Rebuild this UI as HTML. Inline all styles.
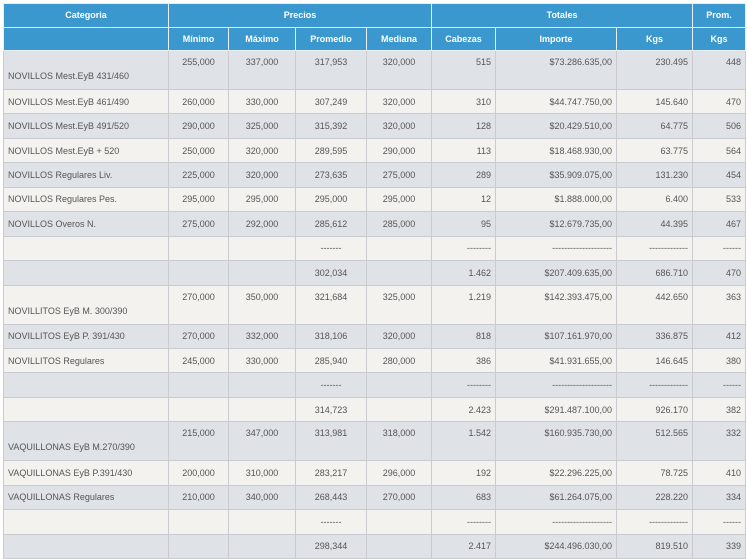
<!DOCTYPE html>
<html><head><meta charset="utf-8"><style>
body{margin:0;background:#fff;width:747px;height:558px;overflow:hidden;font-family:"Liberation Sans",sans-serif;}
table{position:absolute;left:3px;top:3px;border-collapse:collapse;table-layout:fixed;width:742px;font-size:9px;color:#555;}
td,th{border:1px solid #c9cbce;padding:0 4px;white-space:nowrap;overflow:hidden;box-sizing:border-box;}
th{background:#3b98cf;color:#fff;font-weight:bold;border-color:#e8eef3;height:23.5px;font-size:9px;}
tr.g td{background:#dfe2e6}
tr.l td{background:#f3f2ee}
td{height:24.45px;text-align:center}
td.r{text-align:right}
td.c1{text-align:left}
tr.t td{height:39px;vertical-align:top;padding-top:6px}
tr.t td.c1{vertical-align:bottom;padding-bottom:8px;padding-top:0}
</style></head><body>
<table>
<colgroup><col style="width:165px"><col style="width:60px"><col style="width:67px"><col style="width:71px"><col style="width:65px"><col style="width:64px"><col style="width:121px"><col style="width:76px"><col style="width:53px"></colgroup>
<tr><th>Categoria</th><th colspan="4">Precios</th><th colspan="3">Totales</th><th>Prom.</th></tr>
<tr><th></th><th>Mínimo</th><th>Máximo</th><th>Promedio</th><th>Mediana</th><th>Cabezas</th><th>Importe</th><th>Kgs</th><th>Kgs</th></tr>
<tr class="g t"><td class="c1">NOVILLOS Mest.EyB 431/460</td><td>255,000</td><td>337,000</td><td>317,953</td><td>320,000</td><td class="r">515</td><td class="r">$73.286.635,00</td><td class="r">230.495</td><td class="r">448</td></tr>
<tr class="l"><td class="c1">NOVILLOS Mest.EyB 461/490</td><td>260,000</td><td>330,000</td><td>307,249</td><td>320,000</td><td class="r">310</td><td class="r">$44.747.750,00</td><td class="r">145.640</td><td class="r">470</td></tr>
<tr class="g"><td class="c1">NOVILLOS Mest.EyB 491/520</td><td>290,000</td><td>325,000</td><td>315,392</td><td>320,000</td><td class="r">128</td><td class="r">$20.429.510,00</td><td class="r">64.775</td><td class="r">506</td></tr>
<tr class="l"><td class="c1">NOVILLOS Mest.EyB + 520</td><td>250,000</td><td>320,000</td><td>289,595</td><td>290,000</td><td class="r">113</td><td class="r">$18.468.930,00</td><td class="r">63.775</td><td class="r">564</td></tr>
<tr class="g"><td class="c1">NOVILLOS Regulares Liv.</td><td>225,000</td><td>320,000</td><td>273,635</td><td>275,000</td><td class="r">289</td><td class="r">$35.909.075,00</td><td class="r">131.230</td><td class="r">454</td></tr>
<tr class="l"><td class="c1">NOVILLOS Regulares Pes.</td><td>295,000</td><td>295,000</td><td>295,000</td><td>295,000</td><td class="r">12</td><td class="r">$1.888.000,00</td><td class="r">6.400</td><td class="r">533</td></tr>
<tr class="g"><td class="c1">NOVILLOS Overos N.</td><td>275,000</td><td>292,000</td><td>285,612</td><td>285,000</td><td class="r">95</td><td class="r">$12.679.735,00</td><td class="r">44.395</td><td class="r">467</td></tr>
<tr class="l"><td></td><td></td><td></td><td>-------</td><td></td><td class="r">--------</td><td class="r">--------------------</td><td class="r">-------------</td><td class="r">------</td></tr>
<tr class="g"><td></td><td></td><td></td><td>302,034</td><td></td><td class="r">1.462</td><td class="r">$207.409.635,00</td><td class="r">686.710</td><td class="r">470</td></tr>
<tr class="l t"><td class="c1">NOVILLITOS EyB M. 300/390</td><td>270,000</td><td>350,000</td><td>321,684</td><td>325,000</td><td class="r">1.219</td><td class="r">$142.393.475,00</td><td class="r">442.650</td><td class="r">363</td></tr>
<tr class="g"><td class="c1">NOVILLITOS EyB P. 391/430</td><td>270,000</td><td>332,000</td><td>318,106</td><td>320,000</td><td class="r">818</td><td class="r">$107.161.970,00</td><td class="r">336.875</td><td class="r">412</td></tr>
<tr class="l"><td class="c1">NOVILLITOS Regulares</td><td>245,000</td><td>330,000</td><td>285,940</td><td>280,000</td><td class="r">386</td><td class="r">$41.931.655,00</td><td class="r">146.645</td><td class="r">380</td></tr>
<tr class="g"><td></td><td></td><td></td><td>-------</td><td></td><td class="r">--------</td><td class="r">--------------------</td><td class="r">-------------</td><td class="r">------</td></tr>
<tr class="l"><td></td><td></td><td></td><td>314,723</td><td></td><td class="r">2.423</td><td class="r">$291.487.100,00</td><td class="r">926.170</td><td class="r">382</td></tr>
<tr class="g t"><td class="c1">VAQUILLONAS EyB M.270/390</td><td>215,000</td><td>347,000</td><td>313,981</td><td>318,000</td><td class="r">1.542</td><td class="r">$160.935.730,00</td><td class="r">512.565</td><td class="r">332</td></tr>
<tr class="l"><td class="c1">VAQUILLONAS EyB P.391/430</td><td>200,000</td><td>310,000</td><td>283,217</td><td>296,000</td><td class="r">192</td><td class="r">$22.296.225,00</td><td class="r">78.725</td><td class="r">410</td></tr>
<tr class="g"><td class="c1">VAQUILLONAS Regulares</td><td>210,000</td><td>340,000</td><td>268,443</td><td>270,000</td><td class="r">683</td><td class="r">$61.264.075,00</td><td class="r">228.220</td><td class="r">334</td></tr>
<tr class="l"><td></td><td></td><td></td><td>-------</td><td></td><td class="r">--------</td><td class="r">--------------------</td><td class="r">-------------</td><td class="r">------</td></tr>
<tr class="g"><td></td><td></td><td></td><td>298,344</td><td></td><td class="r">2.417</td><td class="r">$244.496.030,00</td><td class="r">819.510</td><td class="r">339</td></tr>
</table>
</body></html>
